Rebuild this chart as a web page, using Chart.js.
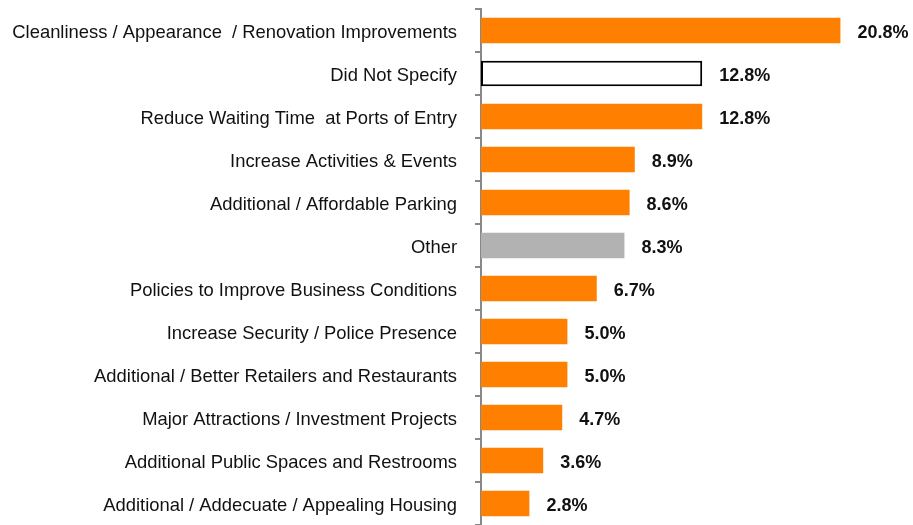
<!DOCTYPE html>
<html>
<head>
<meta charset="utf-8">
<script src="https://cdn.jsdelivr.net/npm/chart.js@4"></script>
<style>
    body { margin: 0; background: #fff; }
    canvas { display: block; }
</style>
</head>
<body>
<canvas id="chart" width="913" height="525"></canvas>
<script>
const categories = [
    "Cleanliness / Appearance  / Renovation Improvements",
    "Did Not Specify",
    "Reduce Waiting Time  at Ports of Entry",
    "Increase Activities & Events",
    "Additional / Affordable Parking",
    "Other",
    "Policies to Improve Business Conditions",
    "Increase Security / Police Presence",
    "Additional / Better Retailers and Restaurants",
    "Major Attractions / Investment Projects",
    "Additional Public Spaces and Restrooms",
    "Additional / Addecuate / Appealing Housing"
];
const values = [20.8, 12.8, 12.8, 8.9, 8.6, 8.3, 6.7, 5.0, 5.0, 4.7, 3.6, 2.8];

const orange = "#ff7f00";
const fills = values.map((v, i) => i === 1 ? "#ffffff" : i === 5 ? "#b2b2b2" : orange);
const borders = values.map((v, i) => i === 1 ? "#000000" : "rgba(0,0,0,0)");
const borderWidths = values.map((v, i) => i === 1 ? 2 : 0);

const FONT = "'Liberation Sans', Arial, sans-serif";

// value labels to the right of each bar
const valueLabels = {
    id: "valueLabels",
    afterDatasetsDraw(chart) {
        const ctx = chart.ctx;
        const meta = chart.getDatasetMeta(0);
        ctx.save();
        ctx.font = "bold 18px " + FONT;
        ctx.fillStyle = "#111111";
        ctx.textAlign = "left";
        ctx.textBaseline = "middle";
        meta.data.forEach((bar, i) => {
            ctx.fillText(values[i].toFixed(1) + "%", bar.x + 17, bar.y + 3);
        });
        ctx.restore();
    }
};

new Chart(document.getElementById("chart"), {
    type: "bar",
    data: {
        labels: categories,
        datasets: [{
            data: values,
            backgroundColor: fills,
            borderColor: borders,
            borderWidth: borderWidths,
            borderSkipped: false,
            categoryPercentage: 1,
            barPercentage: 0.59
        }]
    },
    options: {
        indexAxis: "y",
        responsive: false,
        animation: false,
        layout: { padding: { top: 9, right: 0, bottom: 0, left: 0 } },
        plugins: {
            legend: { display: false },
            tooltip: { enabled: false }
        },
        scales: {
            x: {
                display: false,
                min: 0,
                max: 25
            },
            y: {
                grid: {
                    offset: true,
                    drawOnChartArea: false,
                    drawTicks: true,
                    tickLength: 6,
                    color: "#888888",
                    lineWidth: 2
                },
                border: { display: true, color: "#888888", width: 2 },
                ticks: {
                    autoSkip: false,
                    padding: 18,
                    labelOffset: 2,
                    color: "#111111",
                    font: { family: FONT, size: 18.4 }
                },
                afterFit(scale) {
                    scale.width = 481;
                    scale.paddingTop = 0;
                    scale.paddingBottom = 0;
                }
            }
        }
    },
    plugins: [valueLabels]
});
</script>
</body>
</html>
